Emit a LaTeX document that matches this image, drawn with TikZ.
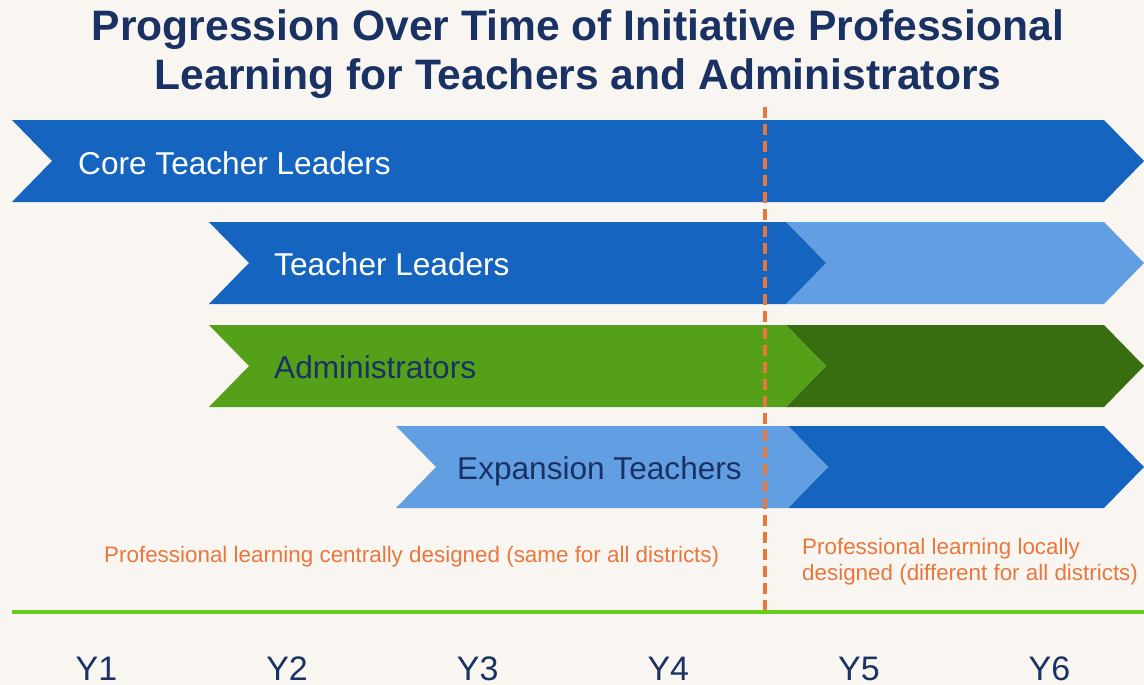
\documentclass[tikz,border=0pt]{standalone}
\usepackage{fontspec}
\setmainfont{Liberation Sans}
\usetikzlibrary{positioning}

\definecolor{bgcream}{HTML}{F9F6F2}
\definecolor{deepblue}{HTML}{1565C0}
\definecolor{skyblue}{HTML}{629EE2}
\definecolor{leafgreen}{HTML}{55A019}
\definecolor{mossgreen}{HTML}{386E0F}
\definecolor{navytext}{HTML}{1A3263}
\definecolor{orangetext}{HTML}{E8773D}
\definecolor{limeline}{HTML}{66CC1A}

% chevron band: colour, left x, right x, middle y
\newcommand{\chevband}[4]{%
  \fill[#1] (#2,#4-41) -- (#3,#4-41) -- (#3+40,#4) -- (#3,#4+41)
    -- (#2,#4+41) -- (#2+40,#4) -- cycle;}

\begin{document}
\begin{tikzpicture}[x=1pt,y=-1pt,
  titletext/.style={inner sep=0,anchor=base,text=navytext,
    font=\bfseries\fontsize{42.6}{48}\selectfont},
  bandtext/.style={inner sep=0,anchor=base west,
    font=\fontsize{31.6}{36}\selectfont},
  notetext/.style={inner sep=0,anchor=base west,text=orangetext,
    font=\fontsize{22.4}{26}\selectfont},
  yearlabel/.style={inner sep=0,anchor=base,text=navytext,
    font=\fontsize{34}{40}\selectfont}]
  \useasboundingbox (0,0) rectangle (1144,685);
  \fill[bgcream] (0,0) rectangle (1144,685);

  % title
  \node[titletext] (title1) at (578,41) {Progression Over Time of Initiative Professional};
  \node[titletext] (title2) at (578,90) {Learning for Teachers and Administrators};

  % bands
  \chevband{deepblue}{12}{1104}{161}
  \chevband{skyblue}{786}{1104}{263}
  \chevband{deepblue}{209}{786}{263}
  \chevband{mossgreen}{786}{1104}{366}
  \chevband{leafgreen}{209}{786}{366}
  \chevband{deepblue}{788}{1104}{467}
  \chevband{skyblue}{396}{788}{467}

  \node[bandtext,text=white] (core) at (78,174) {Core Teacher Leaders};
  \node[bandtext,text=white] (leaders) at (274,275) {Teacher Leaders};
  \node[bandtext,text=navytext] (admins) at (274,378) {Administrators};
  \node[bandtext,text=navytext] (expansion) at (457,479) {Expansion Teachers};

  % notes
  \node[notetext] (central) at (104,562) {Professional learning centrally designed (same for all districts)};
  \node[notetext] (localA) at (802,554) {Professional learning locally};
  \node[notetext] (localB) at (802,580) {designed (different for all districts)};

  % divider and time axis
  \coordinate (divtop) at (765,107);
  \coordinate (divbot) at (765,612);
  \draw[orangetext,line width=3.5pt,dash pattern=on 11pt off 6pt] (divtop) -- (divbot);
  \coordinate (axisstart) at (12,612);
  \coordinate (axisend) at (1144,612);
  \draw[limeline,line width=4pt] (axisstart) -- (axisend);

  \foreach \i in {1,...,6}
    \node[yearlabel] (y\i) at ({96.5+190.6*(\i-1)},680) {Y\i};
\end{tikzpicture}
\end{document}
